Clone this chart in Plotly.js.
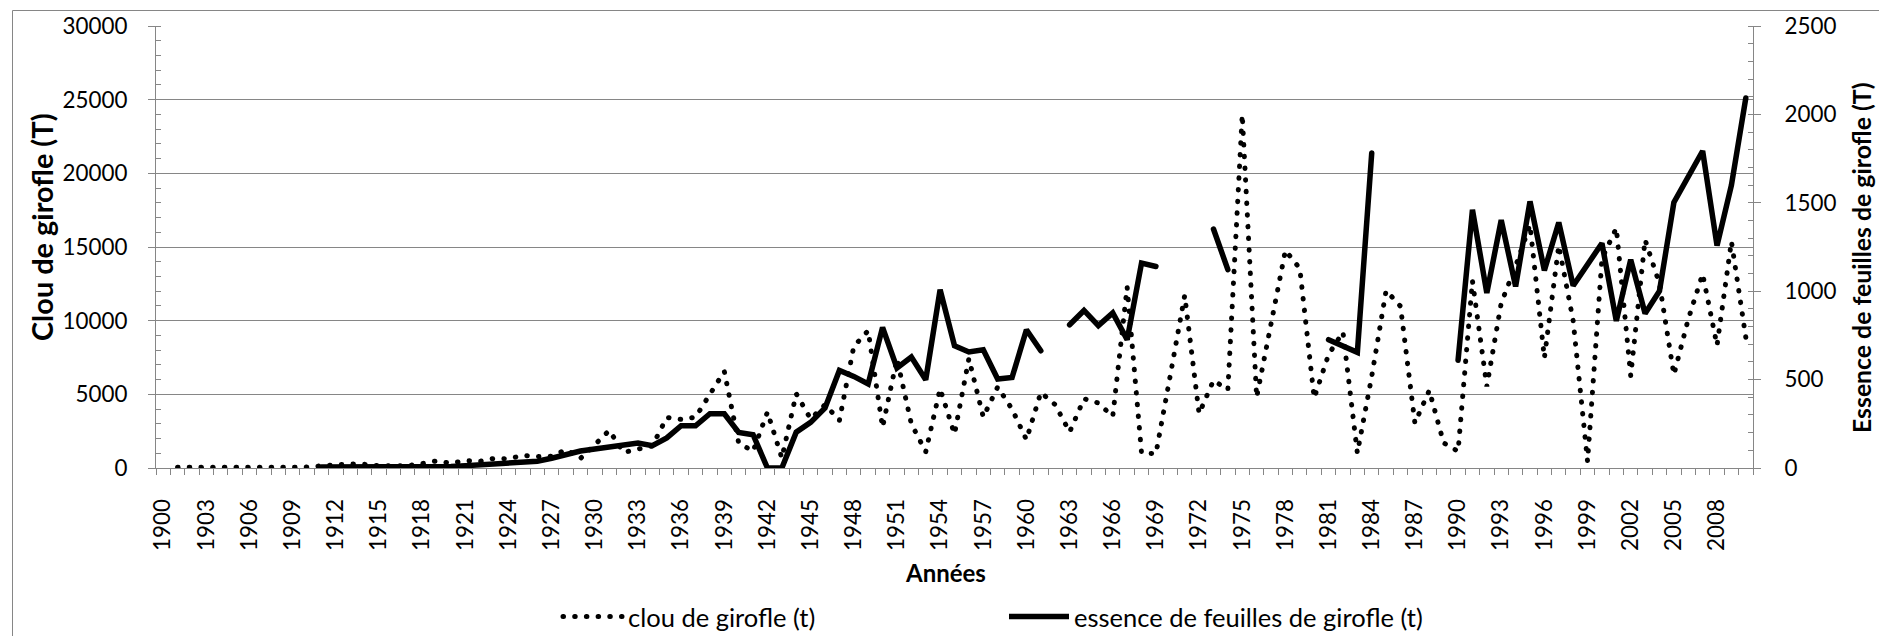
<!DOCTYPE html>
<html>
<head>
<meta charset="utf-8">
<script src="https://cdn.plot.ly/plotly-3.0.1.min.js"></script>
<style>
html, body { margin: 0; padding: 0; background: #fff; }
#chart { width: 1879px; height: 636px; }
.scatterlayer .trace:first-child path.js-line,
.legend .traces:first-child path.js-line { stroke-linecap: round !important; }
</style>
</head>
<body>
<div id="chart"></div>
<script>
// Years (categories)
const years = [];
for (let y = 1900; y <= 2010; y++) years.push(y);

// Clou de girofle (t) — left axis
const clou = [
  null, 50, 50, 60, 60, 50, 100, 80, 110, 120,          // 1900-1909
  60, 150, 230, 270, 250, 150, 150, 160, 300, 480,      // 1910-1919
  320, 500, 450, 650, 620, 860, 780, 800, 1250, 650,    // 1920-1929
  1580, 2550, 1060, 1250, 1500, 3430, 3300, 3450, 5000, 6560, // 1930-1939
  1700, 1130, 3800, 680, 5040, 3330, 4300, 3230, 8250, 9320,  // 1940-1949
  2760, 7420, 3000, 1100, 5380, 2300, 7420, 3460, 5500, 4000, // 1950-1959
  1920, 5130, 4300, 2440, 4700, 4410, 3500, 12280, 1020, 970, // 1960-1969
  6300, 11710, 3690, 5950, 5310, 23980, 4790, 9790, 14770, 13540, // 1970-1979
  4750, 7700, 9230, 1020, 6220, 12050, 10970, 3050, 5270, 1700,   // 1980-1989
  1130, 12700, 5540, 11200, 13700, 16500, 7470, 15100, 10000, 450, // 1990-1999
  14200, 16290, 6260, 15490, 12500, 6330, 10100, 13170, 8320, 15380, // 2000-2009
  8870                                                   // 2010
];

// Essence de feuilles de girofle (t) — right axis
const essence = [
  null, null, null, null, null, null, null, null, null, null, // 1900-1909
  null, 5, 5, 4, 4, 3, 3, 4, 5, 7,                      // 1910-1919
  9, 13, 18, 24, 30, 34, 38, 55, 78, 96,                // 1920-1929
  108, 120, 136, 141, 126, 170, 239, 239, 307, 307,     // 1930-1939
  201, 188, 0, 0, 203, 258, 339, 552, 518, 475,         // 1940-1949
  795, 566, 628, 499, 1008, 692, 656, 669, 503, 512,    // 1950-1959
  782, 663, null, 810, 891, 805, 877, 726, 1159, 1140,  // 1960-1969
  null, null, null, 1352, 1122, null, null, null, null, null, // 1970-1979
  null, 726, 688, 654, 1782, null, null, null, null, null,    // 1980-1989
  609, 1461, 990, 1402, 1027, 1508, 1118, 1389, 1031, 1152,   // 1990-1999
  1271, 832, 1178, 874, 1001, 1502, 1648, 1793, 1258, 1600,   // 2000-2009
  2093                                                   // 2010
];

// Tick labels (every 3 years)
const tickYears = [];
for (let y = 1900; y <= 2008; y += 3) tickYears.push(y);
const tickLabels = tickYears.map(String);

const seriesNames = ['clou de girofle (t)', 'essence de feuilles de girofle (t)'];
const leftTitle = 'Clou de girofle (T)';
const rightTitle = 'Essence de feuilles de girofle (T)';
const xTitle = 'Années';

const FONT = 'Lato, "Open Sans", sans-serif';
const GRAY = '#868686';

// category boundaries for the tick comb under the x axis
const boundaries = [];
for (let b = 1899.5; b <= 2010.5; b += 1) boundaries.push(b);

// size a font so that a text spans a given pixel length (layout only)
const cv = document.createElement('canvas').getContext('2d');
function fit(text, bold, target) {
  cv.font = (bold ? 'bold ' : '') + '100px Lato';
  const w = cv.measureText(text).width;
  return Math.round(100 * target / w * 10) / 10;
}
const tickSize = fit('30000', false, 65);
const leftTitleSize = fit(leftTitle, true, 228);
const rightTitleSize = fit(rightTitle, true, 350);
const xTitleSize = fit(xTitle, true, 80);
const legendSize = Math.round((fit(seriesNames[0], false, 189) + fit(seriesNames[1], false, 344)) / 2 * 10) / 10;

const traces = [
  {
    x: years, y: clou, name: seriesNames[0], type: 'scatter', mode: 'lines',
    line: { color: '#000', width: 5, dash: '0.5px,11.2px' },
    connectgaps: false, xaxis: 'x', yaxis: 'y'
  },
  {
    x: years, y: essence, name: seriesNames[1], type: 'scatter', mode: 'lines',
    line: { color: '#000', width: 5.5 },
    connectgaps: false, xaxis: 'x', yaxis: 'y2'
  },
  { x: [], y: [], type: 'scatter', mode: 'lines', xaxis: 'x2', yaxis: 'y', showlegend: false, hoverinfo: 'skip' }
];

const L = 156, R = 1753, T = 26, B = 468;
const pw = R - L, ph = B - T;
const px = v => (v - L) / pw;
const py = v => (B - v) / ph;

const layout = {
  width: 1879, height: 636,
  margin: { l: L, r: 1879 - R, t: T, b: 636 - B, pad: 0, autoexpand: false },
  paper_bgcolor: '#fff', plot_bgcolor: '#fff',
  font: { family: FONT, size: tickSize, color: '#000' },
  showlegend: true,
  xaxis: {
    type: 'linear', range: [1899.5, 2010.5], fixedrange: true, automargin: false,
    tickmode: 'array', tickvals: tickYears, ticktext: tickLabels,
    tickangle: -90, ticks: '', ticklabelstandoff: 21,
    tickfont: { family: FONT, size: tickSize, color: '#000' },
    showgrid: false, zeroline: false,
    showline: true, linecolor: GRAY, linewidth: 1
  },
  xaxis2: {
    type: 'linear', range: [1899.5, 2010.5], fixedrange: true, automargin: false,
    overlaying: 'x', anchor: 'y', side: 'bottom',
    tickmode: 'array', tickvals: boundaries, showticklabels: false,
    ticks: 'outside', ticklen: 6, tickcolor: GRAY, tickwidth: 1,
    showgrid: false, zeroline: false, showline: false
  },
  yaxis: {
    range: [0, 30000], tickmode: 'linear', tick0: 0, dtick: 5000, tickformat: 'd', fixedrange: true, automargin: false,
    ticks: 'outside', ticklen: 7, tickcolor: GRAY, tickwidth: 1,
    showgrid: true, gridcolor: GRAY, gridwidth: 1, zeroline: false,
    showline: true, linecolor: GRAY, linewidth: 1,
    tickfont: { family: FONT, size: tickSize, color: '#000' }, ticklabelstandoff: 16,
    minor: { ticks: 'inside', ticklen: 5, tickcolor: GRAY, tickwidth: 1, dtick: 1000, showgrid: false }
  },
  yaxis2: {
    overlaying: 'y', side: 'right', anchor: 'x', automargin: false,
    range: [0, 2500], tickmode: 'linear', tick0: 0, dtick: 500, tickformat: 'd', fixedrange: true,
    ticks: 'outside', ticklen: 7, tickcolor: GRAY, tickwidth: 1,
    showgrid: false, zeroline: false,
    showline: true, linecolor: GRAY, linewidth: 1,
    tickfont: { family: FONT, size: tickSize, color: '#000' }, ticklabelstandoff: 19,
    minor: { ticks: 'inside', ticklen: 5, tickcolor: GRAY, tickwidth: 1, dtick: 100, showgrid: false }
  },
  legend: {
    orientation: 'h', x: px(558), xanchor: 'left', y: py(617), yanchor: 'middle',
    font: { family: FONT, size: legendSize, color: '#000' },
    itemwidth: 60, entrywidth: 371, entrywidthmode: 'pixels',
    bgcolor: 'rgba(0,0,0,0)', borderwidth: 0
  },
  annotations: [
    { text: '<b>' + leftTitle + '</b>', xref: 'paper', yref: 'paper', x: px(41), y: py(227),
      xanchor: 'center', yanchor: 'middle', textangle: -90, showarrow: false,
      font: { family: FONT, size: leftTitleSize, color: '#000' } },
    { text: '<b>' + rightTitle + '</b>', xref: 'paper', yref: 'paper', x: px(1861), y: py(258),
      xanchor: 'center', yanchor: 'middle', textangle: -90, showarrow: false,
      font: { family: FONT, size: rightTitleSize, color: '#000' } },
    { text: '<b>' + xTitle + '</b>', xref: 'paper', yref: 'paper', x: px(945), y: py(572),
      xanchor: 'center', yanchor: 'middle', showarrow: false,
      font: { family: FONT, size: xTitleSize, color: '#000' } }
  ],
  shapes: [
    { type: 'rect', xref: 'paper', yref: 'paper', x0: px(12.5), x1: px(1890), y0: py(10.5), y1: py(660),
      line: { color: GRAY, width: 1 }, fillcolor: 'rgba(0,0,0,0)', layer: 'below' }
  ]
};

Plotly.newPlot('chart', traces, layout, { staticPlot: true, displayModeBar: false });
</script>
</body>
</html>
